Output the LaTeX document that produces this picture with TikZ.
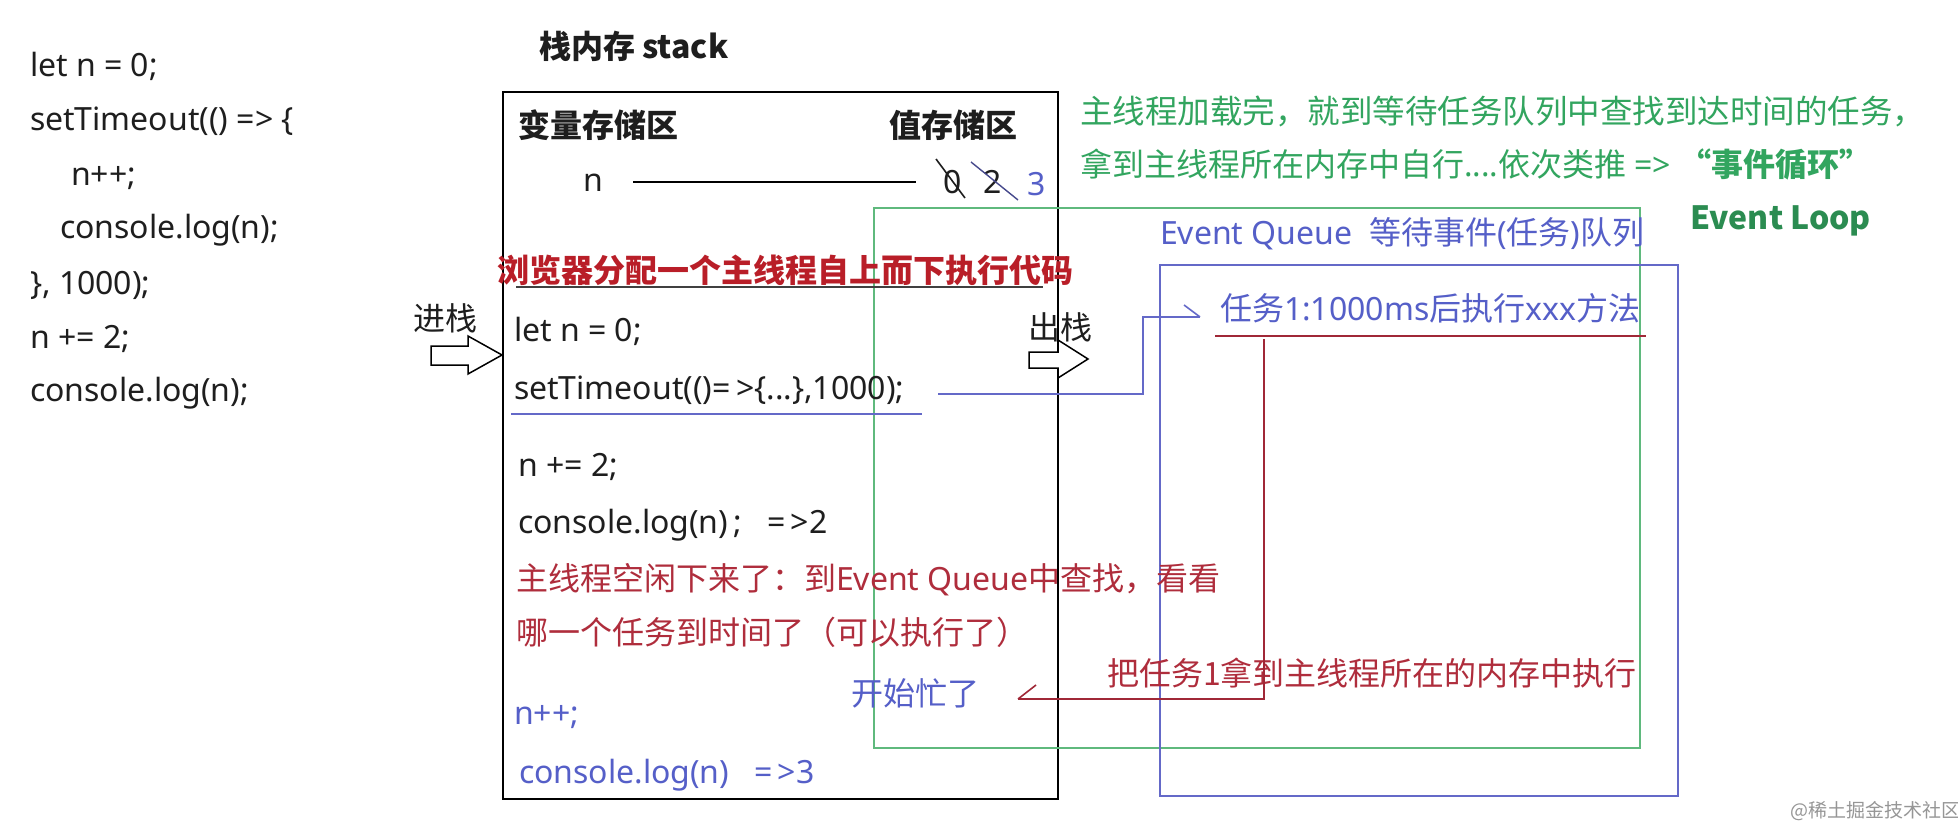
\documentclass[tikz,border=0pt]{standalone}
\usepackage{fontspec}
\setmainfont{Noto Sans}
\newfontfamily\cjk{Noto Sans CJK SC}
\newcommand\fz[1]{\fontsize{#1}{#1}\selectfont}
\definecolor{codec}{RGB}{30,30,30}
\definecolor{greent}{RGB}{50,165,95}
\definecolor{greenl}{RGB}{95,185,125}
\definecolor{bluet}{RGB}{85,95,200}
\definecolor{bluel}{RGB}{100,105,200}
\definecolor{redb}{RGB}{185,30,40}
\definecolor{redt}{RGB}{175,45,60}
\definecolor{redl}{RGB}{160,40,55}
\definecolor{grayw}{RGB}{150,150,150}
\tikzset{
  t/.style={inner sep=0pt, outer sep=0pt, anchor=base west},
  code/.style={t, font=\fz{32}, text=codec},
  cjkt/.style={t, font=\cjk\fz{32}, text=codec},
  hdr/.style={t, font=\cjk\fz{32}\bfseries, text=codec},
  redbold/.style={t, font=\cjk\fz{32}\bfseries, text=redb},
  redtxt/.style={t, font=\fz{32}, text=redt},
  bluetxt/.style={t, font=\fz{32}, text=bluet},
  greentxt/.style={t, font=\fz{32}, text=greent},
  boxblack/.style={draw=black, line width=2.5pt},
  boxgreen/.style={draw=greenl, line width=2pt},
  boxblue/.style={draw=bluel, line width=2.5pt},
  blockarrow/.style={draw=black, line width=1.5pt, fill=white},
  bconn/.style={draw=bluel, line width=2pt},
  rconn/.style={draw=redl, line width=2pt},
}
\begin{document}
\begin{tikzpicture}[x=1pt,y=-1pt]
\useasboundingbox[fill=white] (0,0) rectangle (1958,826);

% left code
\node[code] (c1) at (30,77) {let n = 0;};
\node[code] (c2) at (30,131) {setTimeout(() => \{};
\node[code] (c3) at (71,186) {n++;};
\node[code] (c4) at (60,239) {console.log(n);};
\node[code] (c5) at (30,294) {\}, 1000);};
\node[code] (c6) at (30,348) {n += 2;};
\node[code] (c7) at (30,401) {console.log(n);};

% title
\node[t, font=\cjk\fz{32}\bfseries, text=codec] (title) at (539,59) {栈内存 stack};

% boxes
\draw[boxblack] (503,92) rectangle (1058,799);
\draw[boxgreen] (874,208) rectangle (1640,748);
\draw[boxblue] (1160,265) rectangle (1678,796);

% headers
\node[hdr] (var) at (518,138) {变量存储区};
\node[hdr] (val) at (889,138) {值存储区};

% n row
\node[code] (nvar) at (583,192) {n};
\coordinate (la) at (633,182);
\coordinate (lb) at (916,182);
\draw[black, line width=2pt] (la) -- (lb);
\node[code] (v0) at (943,194) {0};
\node[code] (v2) at (983,194) {2};
\node[code, text=bluet] (v3) at (1027,196) {3};
\draw[codec, line width=1.6pt] (936,159) -- (965,198);
\draw[bluel!70!black, line width=1.4pt] (971,162) -- (1018,200);

% allocation title
\node[redbold] (alloc) at (497,282) {浏览器分配一个主线程自上而下执行代码};
\draw[black!75, line width=2pt] (516,287) -- (1043,287);

% push / pop
\node[cjkt] (jin) at (413,330) {进栈};
\draw[blockarrow] (431,346) -- (468,346) -- (468,336) -- (502,355) -- (468,374) -- (468,365) -- (431,365) -- cycle;
\node[cjkt] (chu) at (1028,339) {出栈};
\draw[blockarrow] (1029,352) -- (1058,352) -- (1058,340) -- (1088,359) -- (1058,378) -- (1058,368) -- (1029,368) -- cycle;

% stack code
\node[code] (s1) at (514,341) {let n = 0;};
\node[code] (s2) at (514,399) {setTimeout(()=\,>\{...\},1000);};
\draw[bluel, line width=2pt] (511,414) -- (922,414);
\node[code] (s3) at (518,476) {n += 2;};
\node[code] (s4) at (518,533) {console.log(n)\,;\ \ \ =\,>2};
\node[redtxt] (r1) at (516,590) {{\cjk 主线程空闲下来了：到}Event Queue{\cjk 中查找，看看}};
\node[redtxt, font=\cjk\fz{32}] (r2) at (516,644) {哪一个任务到时间了（可以执行了）};
\node[bluetxt, font=\cjk\fz{32}] (busy) at (851,705) {开始忙了};
\node[bluetxt] (s5) at (514,724) {n++;};
\node[bluetxt] (s6) at (519,783) {console.log(n)\ \ \ =\,>3};

% green explanation
\node[greentxt, font=\cjk\fz{32.5}] (g1) at (1080,124) {主线程加载完，就到等待任务队列中查找到达时间的任务，};
\node[greentxt] (g2) at (1080,177) {{\cjk 拿到主线程所在内存中自行}....{\cjk 依次类推} => {\cjk\bfseries “事件循环”}};
\node[t, font=\cjk\fz{32}\bfseries, text=greent!85!black] (loop) at (1690,230) {Event Loop};

% event queue
\node[bluetxt] (eq) at (1160,244) {Event Queue\ \ {\cjk 等待事件}({\cjk 任务}){\cjk 队列}};
\node[bluetxt] (task) at (1220,320) {{\cjk 任务}1:1000ms{\cjk 后执行}xxx{\cjk 方法}};
\draw[redl, line width=2.5pt] (1215,336) -- (1646,336);
\node[t, font=\cjk\fz{32}, text=redt] (take) at (1107,685) {把任务1拿到主线程所在的内存中执行};

% connectors
\coordinate (b0) at (938,394);
\coordinate (b1) at (1200,317);
\draw[bconn] (b0) -- ++(205,0) |- (b1);
\draw[bconn, line width=1.6pt] (b1) -- ++(-16,-12);
\coordinate (q0) at (1264,339);
\coordinate (q1) at (1018,699);
\draw[rconn] (q0) |- (q1);
\draw[rconn, line width=1.6pt] (q1) -- ++(18,-14);

% watermark
\node[t, font=\cjk\fz{19}, text=grayw] (wm) at (1790,817) {@稀土掘金技术社区};
\end{tikzpicture}
\end{document}
